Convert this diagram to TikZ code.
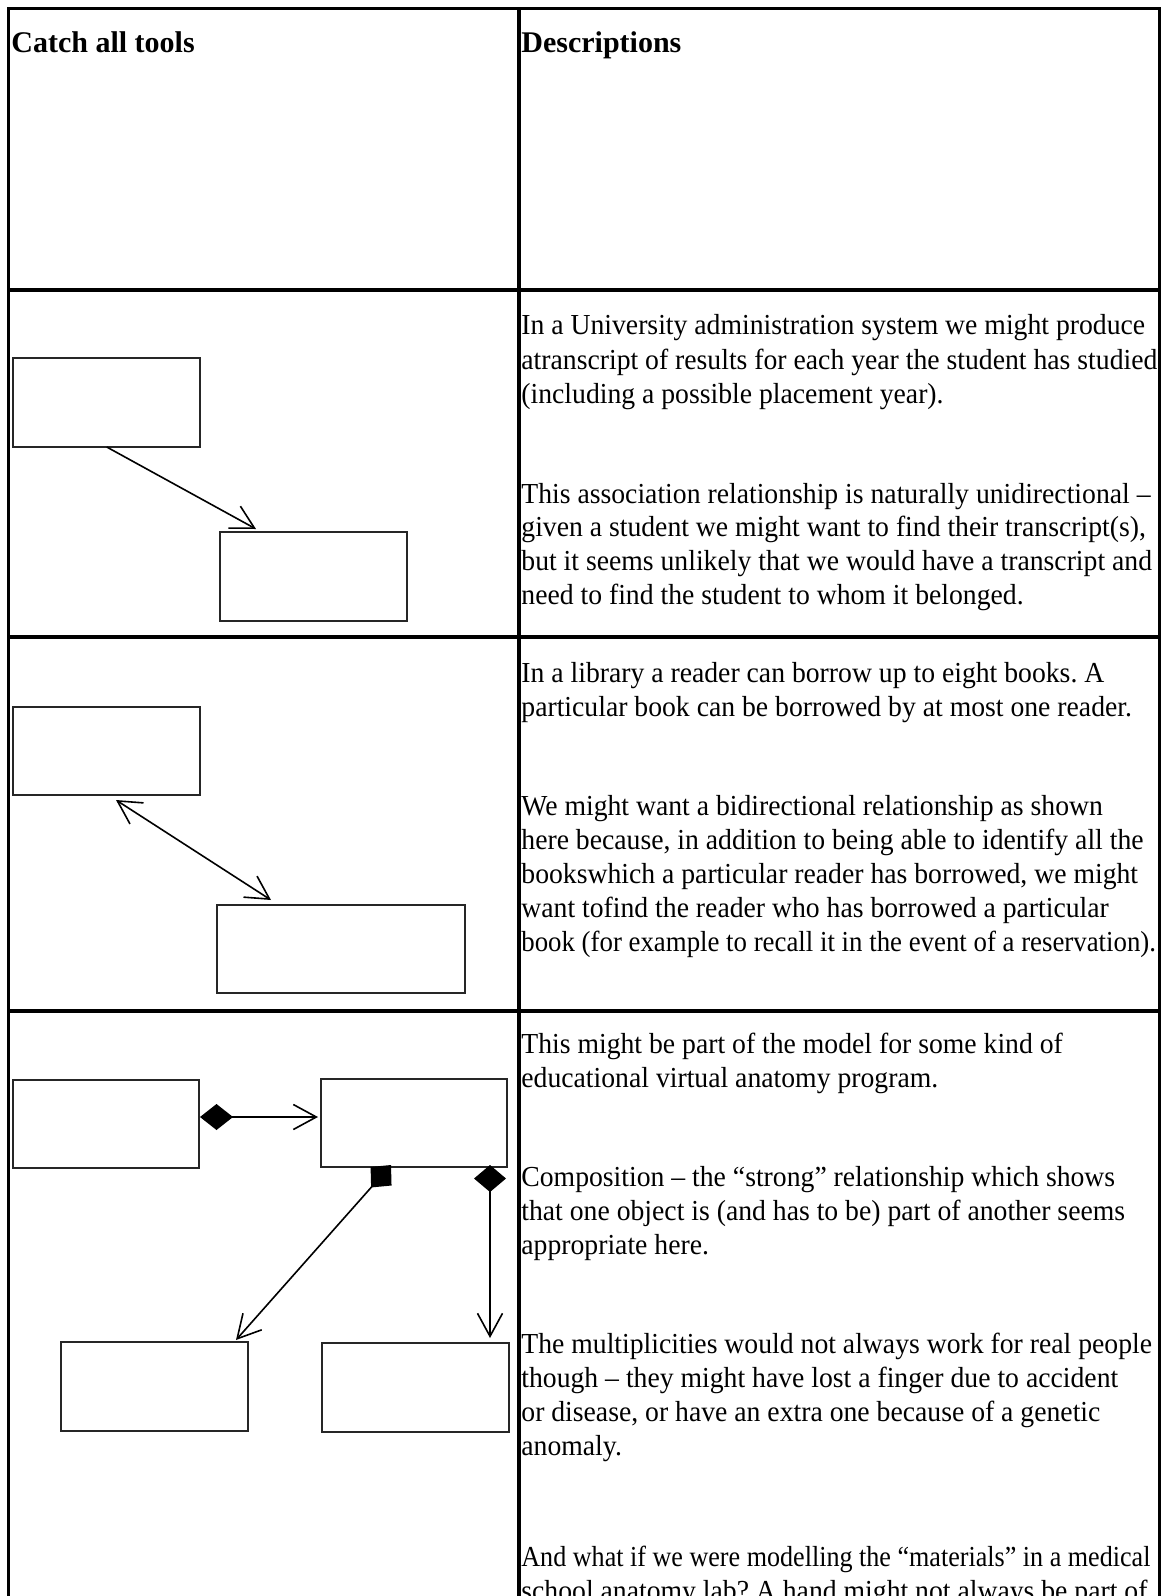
\documentclass[tikz,border=0pt]{standalone}
\usepackage{fontspec}
\setmainfont{Liberation Serif}
\newfontfamily\bodyserif{Liberation Serif}[FakeStretch=0.955]
\newfontfamily\bodyserifnarrow{Liberation Serif}[FakeStretch=0.925]
\newfontfamily\bodyserifnarrower{Liberation Serif}[FakeStretch=0.9]
\usetikzlibrary{arrows.meta,calc}
\frenchspacing

% class rectangle: name, centre x, centre y, width, height (in picture units)
\newcommand\classrect[5]{%
  \node[classbox, minimum width=#4*0.5pt, minimum height=#5*0.5pt] (#1) at (#2,#3) {};}

\begin{document}
\begin{tikzpicture}[x=0.5pt, y=-0.5pt,
  rule/.style={line width=1.6pt, line cap=rect},
  classbox/.style={draw=black!85, line width=1.1pt, inner sep=0pt, outer sep=0pt},
  link/.style={line width=0.8pt},
  OpenV/.tip={Straight Barb[length=11.5pt, width=12.5pt]},
  head/.style={anchor=base west, inner sep=0pt, font=\fontsize{15}{18}\selectfont\bfseries},
  body/.style={anchor=base west, inner sep=0pt, font=\bodyserif\fontsize{14.5}{17}\selectfont},
  bodytight/.style={body, font=\bodyserifnarrow\fontsize{14.5}{17}\selectfont},
  bodytighter/.style={body, font=\bodyserifnarrower\fontsize{14.5}{17}\selectfont}]

\useasboundingbox (0,0) rectangle (1164,1596);

% column headings
\node[head] (h1) at (11,52) {Catch all tools};
\node[head] (h2) at (521,52) {Descriptions};

% unidirectional association
\classrect{A}{106.75}{402.5}{187}{89}
\classrect{B}{313.5}{576.5}{187}{89}
\draw[link, -OpenV] (A.south) -- ($(B.north west)+(36,-3)$);

% bidirectional association
\classrect{C}{106.5}{751}{187}{88}
\classrect{D}{341}{949}{248}{88}
\draw[link, OpenV-OpenV] ($(C.south)+(9.5,5)$) -- ($(D.north west)+(54,-5)$);

% composition
\classrect{E}{106}{1124}{186}{88}
\classrect{F}{414}{1123}{186}{88}
\classrect{G}{154.5}{1386.5}{187}{89}
\classrect{H}{415.5}{1387.5}{187}{89}
\draw[link, {Diamond[length=16.5pt, width=13pt]}-OpenV]
  ($(E.east)+(1,-7)$) -- ($(F.west)+(-3,-6)$);
\draw[link, {Diamond[length=15pt, width=14pt]}-OpenV]
  ($(F.south west)+(70,-2)$) -- ($(G.north west)+(175,-2)$);
\draw[link, {Diamond[length=13.5pt, width=16pt]}-OpenV]
  ($(F.south east)+(-17,-2)$) -- ($(H.north west)+(168,-5)$);

% description cells: text running past the right rule is cut off there
\begin{scope}
\clip (519,290) rectangle (1158,1596);

\node[body] (p1) at (521,334) {In a University administration system we might produce};
\node[body] (p2) at (521,369) {atranscript of results for each year the student has studied};
\node[body] (p3) at (521,403) {(including a possible placement year).};
\node[body] (p4) at (521,503) {This association relationship is naturally unidirectional –};
\node[body] (p5) at (521,536) {given a student we might want to find their transcript(s),};
\node[body] (p6) at (521,570) {but it seems unlikely that we would have a transcript and};
\node[body] (p7) at (521,604) {need to find the student to whom it belonged.};

\node[body] (q1) at (521,682) {In a library a reader can borrow up to eight books. A};
\node[body] (q2) at (521,716) {particular book can be borrowed by at most one reader.};
\node[body] (q3) at (521,815) {We might want a bidirectional relationship as shown};
\node[body] (q4) at (521,849) {here because, in addition to being able to identify all the};
\node[body] (q5) at (521,883) {bookswhich a particular reader has borrowed, we might};
\node[body] (q6) at (521,917) {want tofind the reader who has borrowed a particular};
\node[bodytight] (q7) at (521,951) {book (for example to recall it in the event of a reservation).};

\node[body] (s1) at (521,1053) {This might be part of the model for some kind of};
\node[body] (s2) at (521,1087) {educational virtual anatomy program.};
\node[body] (s3) at (521,1186) {Composition – the “strong” relationship which shows};
\node[body] (s4) at (521,1220) {that one object is (and has to be) part of another seems};
\node[body] (s5) at (521,1254) {appropriate here.};
\node[body] (s6) at (521,1353) {The multiplicities would not always work for real people};
\node[body] (s7) at (521,1387) {though – they might have lost a finger due to accident};
\node[body] (s8) at (521,1421) {or disease, or have an extra one because of a genetic};
\node[body] (s9) at (521,1455) {anomaly.};
\node[bodytighter] (s10) at (521,1566) {And what if we were modelling the “materials” in a medical};
\node[body] (s11) at (521,1600) {school anatomy lab? A hand might not always be part of};
\end{scope}

% table grid, drawn over the cell contents
\draw[rule] (8.5,1610) -- (8.5,8.5) -- (1159.5,8.5) -- (1159.5,1610);
\draw[rule] (519,8.5) -- (519,1610);
\draw[rule] (8.5,290) -- (1159.5,290);
\draw[rule] (8.5,637) -- (1159.5,637);
\draw[rule] (8.5,1011) -- (1159.5,1011);
\end{tikzpicture}
\end{document}
